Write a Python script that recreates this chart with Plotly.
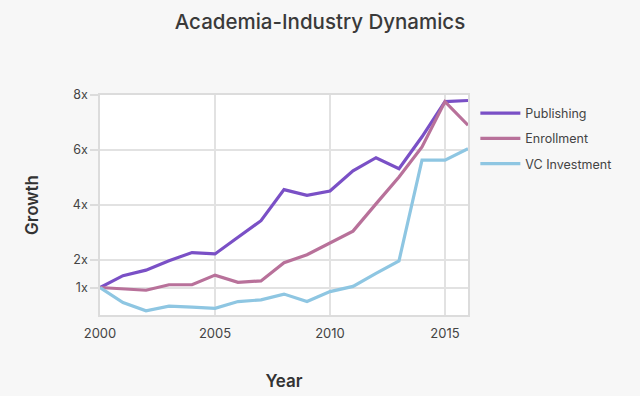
import plotly.graph_objects as go

years = list(range(2000, 2017))
publishing = [1.0, 1.43, 1.63, 1.97, 2.27, 2.22, 2.83, 3.43, 4.56, 4.35, 4.51, 5.24, 5.72, 5.32, 6.48, 7.76, 7.8]
enrollment = [1.0, 0.94, 0.9, 1.1, 1.1, 1.45, 1.19, 1.24, 1.9, 2.19, 2.61, 3.05, 4.04, 5.02, 6.11, 7.76, 6.9]
vc_investment = [1.0, 0.45, 0.15, 0.32, 0.29, 0.24, 0.49, 0.55, 0.76, 0.49, 0.85, 1.04, 1.51, 1.97, 5.63, 5.63, 6.05]

y_ticks = [1, 2, 4, 6, 8]
y_tick_labels = ["1x", "2x", "4x", "6x", "8x"]
x_ticks = [2000, 2005, 2010, 2015]

font_family = "Inter, Lato, 'Open Sans', sans-serif"

fig = go.Figure()
fig.add_trace(go.Scatter(x=years, y=publishing, mode="lines", name="Publishing", legendgroup="a",
                         line=dict(color="#7a50c6", width=3.2)))
fig.add_trace(go.Scatter(x=years, y=enrollment, mode="lines", name="Enrollment", legendgroup="b",
                         line=dict(color="#b8719a", width=3.2)))
fig.add_trace(go.Scatter(x=years, y=vc_investment, mode="lines", name="VC Investment", legendgroup="c",
                         line=dict(color="#8ec6e2", width=3.2)))

fig.update_layout(
    width=640, height=396,
    paper_bgcolor="#f7f7f7",
    plot_bgcolor="#ffffff",
    margin=dict(l=100, r=172, t=95, b=81, autoexpand=False),
    font=dict(family=font_family, color="#444444", size=12),
    title=dict(text="Academia-Industry Dynamics", x=0.5, xanchor="center",
               y=0.945, yanchor="middle",
               font=dict(size=20.5, color="#3a3a3a", family=font_family, weight=500)),
    legend=dict(x=1.02, y=0.984, xanchor="left", yanchor="top",
                font=dict(size=12.5, color="#444444"), bgcolor="rgba(0,0,0,0)",
                tracegroupgap=6, itemwidth=40),
    showlegend=True,
)

fig.update_xaxes(
    range=[2000, 2016], tickvals=x_ticks, ticktext=[str(t) for t in x_ticks],
    showgrid=True, gridcolor="#e2e2e2", gridwidth=1.5,
    showline=True, linecolor="#dcdcdc", linewidth=1.5, mirror=True,
    ticks="outside", ticklen=6, tickcolor="rgba(0,0,0,0)",
    tickfont=dict(size=13, color="#444444"),
    title=dict(text="Year", font=dict(size=17, color="#333333", weight=600), standoff=35),
    zeroline=False, automargin=False,
)
fig.update_yaxes(
    range=[0, 8], tickvals=y_ticks, ticktext=y_tick_labels,
    showgrid=True, gridcolor="#e2e2e2", gridwidth=1.5,
    showline=True, linecolor="#dcdcdc", linewidth=1.5, mirror=True,
    ticks="outside", ticklen=8, tickcolor="#dcdcdc", tickwidth=1.5,
    tickfont=dict(size=12.5, color="#444444"),
    title=dict(text="Growth", font=dict(size=17, color="#333333", weight=600), standoff=30),
    zeroline=False, automargin=False,
)

fig.write_html("out.html", config={"displayModeBar": False},
               post_script="document.body.style.margin='0';")
